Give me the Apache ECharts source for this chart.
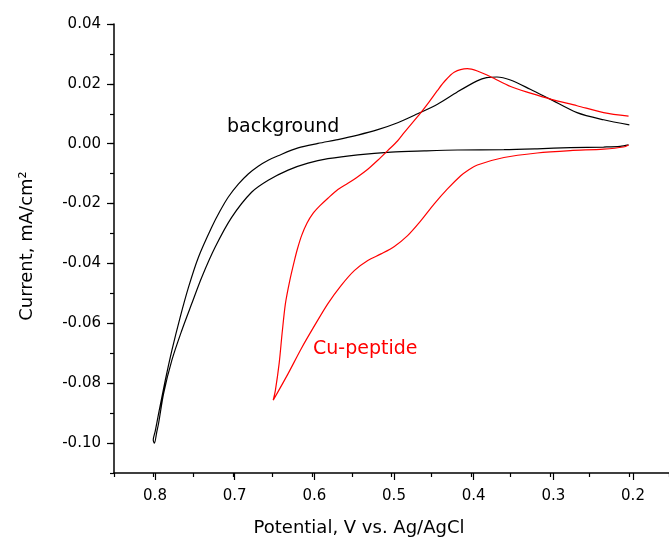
<!DOCTYPE html>
<html>
<head>
<meta charset="utf-8">
<script src="https://cdn.jsdelivr.net/npm/echarts@6/dist/echarts.min.js"></script>
<style>html,body{margin:0;padding:0;background:#fff}#c{width:669px;height:539px}</style>
</head>
<body>
<div id="c"></div>
<script>
// background CV loop: start at 0.2 V (upper branch) -> 0.8 V -> back to 0.2 V
var bgPotential = [0.200,0.2325,0.266,0.300,0.325,0.350,0.367,0.380,0.392,0.417,0.442,0.4671,0.4922,0.5173,0.5425,0.5676,0.5927,0.6178,0.643,0.6555,0.6681,0.6807,0.6932,0.7058,0.7163,0.7268,0.7435,0.756,0.7665,0.777,0.7853,0.7937,0.798,0.8005,
  0.799,0.7962,0.7937,0.7874,0.777,0.7644,0.7519,0.7393,0.7225,0.7016,0.6765,0.6555,0.6304,0.6053,0.5802,0.5425,0.5006,0.4587,0.4168,0.3582,0.3163,0.2745,0.2325,0.2117,0.201];
var bgCurrent = [0.0063,0.0080,0.0104,0.0149,0.0182,0.0213,0.0223,0.0221,0.0210,0.0173,0.0132,0.0100,0.0070,0.0047,0.0029,0.0014,0.0001,-0.0014,-0.0040,-0.0055,-0.0075,-0.0101,-0.0135,-0.0178,-0.0225,-0.0279,-0.0379,-0.0479,-0.0579,-0.0690,-0.0790,-0.0901,-0.0960,-0.0990,
  -0.1000,-0.0965,-0.0933,-0.0834,-0.0723,-0.0623,-0.0534,-0.0446,-0.0346,-0.0246,-0.0162,-0.0122,-0.0088,-0.0065,-0.0050,-0.0037,-0.0028,-0.0024,-0.0021,-0.0020,-0.0017,-0.0013,-0.0011,-0.0009,-0.0004];

// Cu-peptide CV loop: start at 0.2 V (upper branch) -> 0.65 V -> back to 0.2 V
var cuPotential = [0.201,0.2325,0.266,0.2995,0.3248,0.3498,0.375,0.3917,0.4043,0.421,0.4335,0.442,0.4525,0.463,0.4838,0.4922,0.5048,0.5173,0.5299,0.5425,0.555,0.5676,0.5802,0.5902,0.599,0.6065,0.6134,0.6185,0.6226,0.6283,0.6338,0.638,0.6417,0.6464,0.6492,
  0.6304,0.6137,0.5969,0.5802,0.5634,0.5466,0.5299,0.5132,0.4964,0.4797,0.4629,0.4461,0.4294,0.4127,0.4043,0.3917,0.3582,0.3163,0.2745,0.2325,0.2075,0.201];
var cuCurrent = [0.0092,0.0104,0.0127,0.0149,0.0169,0.0191,0.0224,0.0243,0.0251,0.0239,0.0207,0.0178,0.0140,0.0104,0.0038,0.0010,-0.0023,-0.0055,-0.0085,-0.0110,-0.0132,-0.0153,-0.0182,-0.0207,-0.0233,-0.0265,-0.0307,-0.0350,-0.0392,-0.0457,-0.0534,-0.0634,-0.0734,-0.0823,-0.0857,
  -0.0768,-0.0684,-0.0607,-0.0534,-0.0473,-0.0423,-0.0390,-0.0368,-0.0343,-0.0307,-0.0257,-0.0201,-0.0151,-0.0107,-0.0090,-0.0071,-0.0046,-0.0031,-0.0023,-0.0018,-0.0011,-0.0004];

var xTickValues = ['0.8','0.7','0.6','0.5','0.4','0.3','0.2'];
var yTickValues = ['0.04','0.02','0.00','-0.02','-0.04','-0.06','-0.08','-0.10'];

function pairs(xs, ys){ return xs.map(function(x,i){ return [x, ys[i]]; }); }

var FONT = '"DejaVu Sans", "Liberation Sans", Arial, sans-serif';
var chart = echarts.init(document.getElementById('c'), null, {renderer:'canvas'});
var axisLineStyle = {color:'#000', width:1.5};
chart.setOption({
  animation:false,
  backgroundColor:'#fff',
  grid:[
    {left:114, right:-3, top:24, bottom:66, containLabel:false},
    {left:155, right:36, top:24, bottom:96, containLabel:false}
  ],
  xAxis:[
    {gridIndex:0, type:'value', inverse:true, min:0.15, max:0.85, interval:0.05,
     axisLine:{show:true, onZero:false, lineStyle:axisLineStyle},
     axisTick:{show:true, inside:false, length:4, lineStyle:{color:'#000', width:1.2}},
     axisLabel:{show:false}, splitLine:{show:false}},
    {gridIndex:1, type:'value', inverse:true, min:0.2, max:0.8, interval:0.1, offset:30,
     axisLine:{show:false, onZero:false},
     axisTick:{show:true, inside:false, length:7, lineStyle:{color:'#000', width:1.2}},
     axisLabel:{show:true, margin:16, color:'#000', fontSize:15, fontFamily:FONT,
       formatter:function(v){ return xTickValues[Math.round((0.8 - v)*10)]; }},
     splitLine:{show:false}}
  ],
  yAxis:[
    {gridIndex:0, type:'value', min:-0.11, max:0.04, interval:0.01,
     axisLine:{show:true, onZero:false, lineStyle:axisLineStyle},
     axisTick:{show:true, inside:false, length:4, lineStyle:{color:'#000', width:1.2}},
     axisLabel:{show:false}, splitLine:{show:false}},
    {gridIndex:1, type:'value', min:-0.10, max:0.04, interval:0.02, offset:41,
     axisLine:{show:false, onZero:false},
     axisTick:{show:true, inside:false, length:7, lineStyle:{color:'#000', width:1.2}},
     axisLabel:{show:true, margin:13, color:'#000', fontSize:15, fontFamily:FONT,
       formatter:function(v){ return yTickValues[Math.round((0.04 - v)*50)]; }},
     splitLine:{show:false}}
  ],
  series:[
    {type:'line', name:'background', xAxisIndex:0, yAxisIndex:0, data:pairs(bgPotential, bgCurrent),
     showSymbol:false, symbol:'none', smooth:0.3, lineStyle:{color:'#000', width:1.2}},
    {type:'line', name:'Cu-peptide', xAxisIndex:0, yAxisIndex:0, data:pairs(cuPotential, cuCurrent),
     showSymbol:false, symbol:'none', smooth:0.3, lineStyle:{color:'#ff0000', width:1.2}}
  ],
  graphic:[
    {type:'text', x:227, y:127, style:{text:'background', fill:'#000', font:'19px ' + FONT, textAlign:'left', textVerticalAlign:'middle', align:'left', verticalAlign:'middle'}},
    {type:'text', x:313, y:349, style:{text:'Cu-peptide', fill:'#ff0000', font:'19px ' + FONT, textAlign:'left', textVerticalAlign:'middle', align:'left', verticalAlign:'middle'}},
    {type:'text', x:359, y:528, style:{text:'Potential, V vs. Ag/AgCl', fill:'#000', font:'18px ' + FONT, textAlign:'center', textVerticalAlign:'middle', align:'center', verticalAlign:'middle'}},
    {type:'text', x:27, y:246, rotation:Math.PI/2, style:{text:'Current, mA/cm\u00B2', fill:'#000', font:'18px ' + FONT, textAlign:'center', textVerticalAlign:'middle', align:'center', verticalAlign:'middle'}}
  ]
});
</script>
</body>
</html>
